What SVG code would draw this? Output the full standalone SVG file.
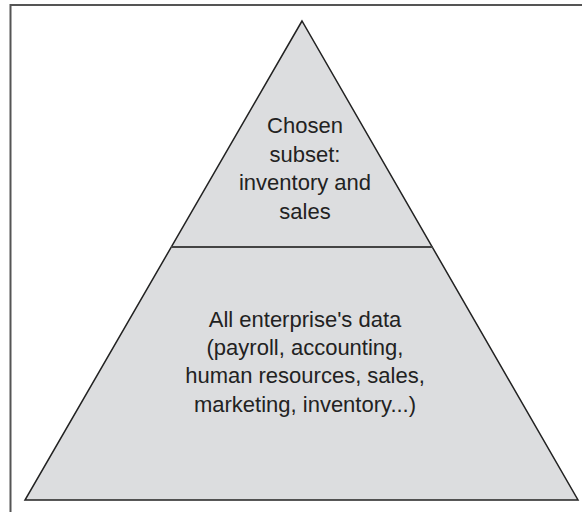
<svg xmlns="http://www.w3.org/2000/svg" width="582" height="512" viewBox="0 0 582 512">
<style>
.t{font-family:"Liberation Sans",Arial,sans-serif;font-size:22px;fill:#222;text-anchor:middle}
.shape{fill:#dcdddf;stroke:#222;stroke-width:1.5;stroke-linejoin:miter}
</style>
<rect width="582" height="512" fill="#fff"/>
<path d="M10.5 512 V5 H582" fill="none" stroke="#555" stroke-width="2"/>
<g id="pyramid">
<polygon class="shape" points="302,21 25,500 578,500"/>
</g>
<g id="connectors">
<line x1="171" y1="247" x2="433" y2="247" stroke="#444" stroke-width="2"/>
</g>
<g id="top">
<text class="t" x="305" y="132.5">Chosen</text>
<text class="t" x="305" y="162">subset:</text>
<text class="t" x="305" y="190">inventory and</text>
<text class="t" x="305" y="218.5">sales</text>
</g>
<g id="bottom">
<text class="t" x="305" y="326.5">All enterprise's data</text>
<text class="t" x="305" y="355">(payroll, accounting,</text>
<text class="t" x="305" y="383">human resources, sales,</text>
<text class="t" x="305" y="411.5">marketing, inventory...)</text>
</g>
</svg>
